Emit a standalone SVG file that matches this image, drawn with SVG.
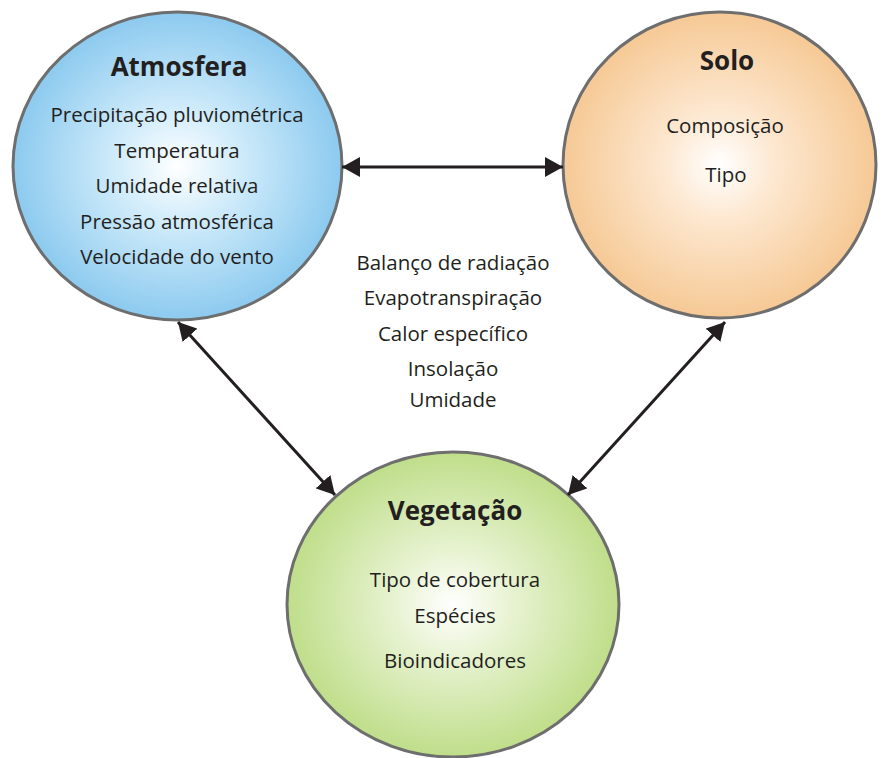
<svg xmlns="http://www.w3.org/2000/svg" width="882" height="758" viewBox="0 0 882 758">
<defs>
<radialGradient id="gBlue" cx="0.5" cy="0.5" r="0.5">
<stop offset="0" stop-color="#ffffff"/>
<stop offset="0.35" stop-color="#d3edfb"/>
<stop offset="1" stop-color="#8ccaef"/>
</radialGradient>
<radialGradient id="gOrange" cx="0.5" cy="0.5" r="0.5">
<stop offset="0" stop-color="#ffffff"/>
<stop offset="0.35" stop-color="#fde8d1"/>
<stop offset="1" stop-color="#f6c995"/>
</radialGradient>
<radialGradient id="gGreen" cx="0.5" cy="0.5" r="0.5">
<stop offset="0" stop-color="#ffffff"/>
<stop offset="0.35" stop-color="#e8f3d2"/>
<stop offset="1" stop-color="#bfde8a"/>
</radialGradient>
<marker id="ah" viewBox="0 0 18 20" refX="18" refY="10" markerWidth="18" markerHeight="20" markerUnits="userSpaceOnUse" orient="auto-start-reverse">
<path d="M0,0 L18,10 L0,20 Z" fill="#231f20"/>
</marker>
</defs>
<style>
.node{stroke:#6e6e6e;stroke-width:3}
.title{font-family:"Open Sans","Noto Sans",sans-serif;font-weight:bold;font-size:26px;fill:#231f20;text-anchor:middle}
.body{font-family:"Open Sans","Noto Sans",sans-serif;font-size:20.5px;fill:#231f20;text-anchor:middle}
.conn{stroke:#231f20;stroke-width:3;fill:none;marker-start:url(#ah);marker-end:url(#ah)}
</style>
<rect width="882" height="758" fill="#ffffff"/>
<g id="atmosfera">
<ellipse class="node" cx="177.5" cy="166" rx="164.5" ry="154" fill="url(#gBlue)"/>
<text class="title" x="179" y="76">Atmosfera</text>
<text class="body" x="177" y="122">Precipitação pluviométrica</text>
<text class="body" x="177" y="158">Temperatura</text>
<text class="body" x="177" y="193">Umidade relativa</text>
<text class="body" x="177" y="229">Pressão atmosférica</text>
<text class="body" x="177" y="264">Velocidade do vento</text>
</g>
<g id="solo">
<ellipse class="node" cx="719.5" cy="165" rx="156.5" ry="153" fill="url(#gOrange)"/>
<text class="title" x="727" y="70">Solo</text>
<text class="body" x="725" y="133">Composição</text>
<text class="body" x="726" y="182">Tipo</text>
</g>
<g id="vegetacao">
<ellipse class="node" cx="453" cy="604.5" rx="166" ry="152.5" fill="url(#gGreen)"/>
<text class="title" x="455" y="520">Vegetação</text>
<text class="body" x="455" y="587">Tipo de cobertura</text>
<text class="body" x="455" y="623">Espécies</text>
<text class="body" x="455" y="668">Bioindicadores</text>
</g>
<g id="center-labels">
<text class="body" x="453" y="270">Balanço de radiação</text>
<text class="body" x="453" y="305">Evapotranspiração</text>
<text class="body" x="453" y="341">Calor específico</text>
<text class="body" x="453" y="376">Insolação</text>
<text class="body" x="453" y="407">Umidade</text>
</g>
<g id="connectors">
<line class="conn" x1="342" y1="167" x2="563" y2="167"/>
<line class="conn" x1="178" y1="322" x2="335" y2="495"/>
<line class="conn" x1="725" y1="322" x2="568" y2="495"/>
</g>
</svg>
